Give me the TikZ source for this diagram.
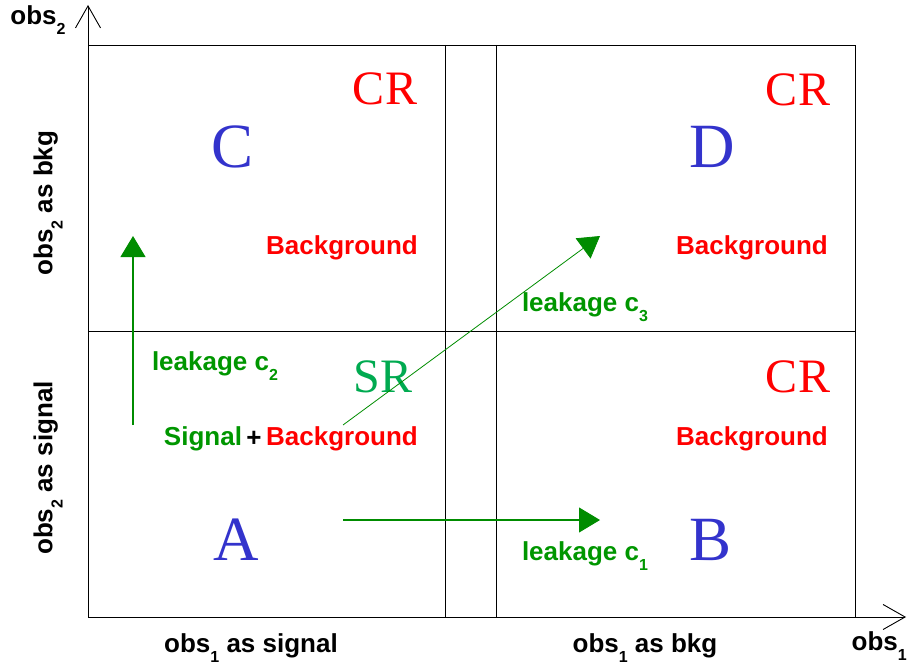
\documentclass[tikz,border=0pt]{standalone}
\usepackage{fontspec}
\setmainfont{Liberation Serif}
\newfontfamily\labelfont{Liberation Sans}
\usetikzlibrary{arrows.meta}
\definecolor{regred}{RGB}{255,0,0}
\definecolor{regblue}{RGB}{51,51,204}
\definecolor{srgreen}{RGB}{0,170,80}
\definecolor{lkgreen}{RGB}{0,150,0}
\definecolor{arrgreen}{RGB}{0,140,0}
\newcommand\lowidx[1]{\raisebox{-0.75ex}{\fontsize{16}{16}\selectfont #1}}
\tikzset{
  grid line/.style={draw=black, line width=0.9pt},
  axis line/.style={draw=black, line width=0.9pt, -{Straight Barb[length=22pt,width=25pt,line width=0.9pt]}},
  axislabel/.style={font=\labelfont\bfseries\fontsize{26}{26}\selectfont, text=black, inner sep=0pt},
  regname/.style={font=\fontsize{48}{48}\selectfont, inner sep=0pt},
  letter/.style={font=\fontsize{63}{63}\selectfont, text=regblue, inner sep=0pt},
  bkgtext/.style={font=\labelfont\bfseries\fontsize{26}{26}\selectfont, text=regred, inner sep=0pt},
  leaktext/.style={font=\labelfont\bfseries\fontsize{26}{26}\selectfont, text=lkgreen, inner sep=0pt},
  leak arrow/.style={draw=arrgreen, line width=1.1pt, -{Triangle[length=21pt,width=25pt]}},
}
\begin{document}
\begin{tikzpicture}[x=1pt,y=-1pt]
\useasboundingbox (0,0) rectangle (907,666);
% frame and axes
\coordinate (origin) at (88,617);
\coordinate (ytip) at (88,5);
\coordinate (xtip) at (906,617);
\draw[axis line] (origin) -- (ytip);
\draw[axis line] (origin) -- (xtip);
\draw[grid line] (88,45) -- (855,45) -- (855,617);
\draw[grid line] (445,45) -- (445,617);
\draw[grid line] (496,45) -- (496,617);
\draw[grid line] (88,331) -- (855,331);
% axis labels
\node[axislabel] (ylab) at (38,20) {obs\lowidx{2}};
\node[axislabel, anchor=east] (xlab) at (907,646) {obs\lowidx{1}};
\node[axislabel] (xsig) at (251,648) {obs\lowidx{1} as signal};
\node[axislabel] (xbkg) at (645,648) {obs\lowidx{1} as bkg};
\node[axislabel, rotate=90] (ybkg) at (48,203) {obs\lowidx{2} as bkg};
\node[axislabel, rotate=90] (ysig) at (48,468) {obs\lowidx{2} as signal};
% region names
\node[regname, text=regred] (crC) at (385,89) {CR};
\node[regname, text=regred] (crD) at (798,90) {CR};
\node[regname, text=regred] (crB) at (798,377) {CR};
\node[regname, text=srgreen] (srA) at (383,377) {SR};
\node[letter] (C) at (233,147) {C};
\node[letter] (D) at (712,147) {D};
\node[letter] (A) at (236,540) {A};
\node[letter] (B) at (710,540) {B};
% contents
\node[bkgtext] (bgC) at (342,248) {Background};
\node[bkgtext] (bgD) at (752,248) {Background};
\node[bkgtext] (bgA) at (342,439) {Background};
\node[bkgtext] (bgB) at (752,439) {Background};
\node[leaktext] (sig) at (203,439) {Signal};
\node[axislabel] (plus) at (254,439) {+};
% leakage labels
\node[leaktext] (c2) at (215,366) {leakage c\lowidx{2}};
\node[leaktext] (c3) at (585,307) {leakage c\lowidx{3}};
\node[leaktext] (c1) at (585,556) {leakage c\lowidx{1}};
% leakage arrows
\coordinate (l2s) at (133,425);
\coordinate (l2e) at (133,236);
\coordinate (l3s) at (343,425);
\coordinate (l3e) at (600,236);
\coordinate (l1s) at (343,520);
\coordinate (l1e) at (600,520);
\draw[leak arrow] (l2s) -- (l2e);
\draw[leak arrow, line width=0.8pt] (l3s) -- (l3e);
\draw[leak arrow] (l1s) -- (l1e);
\end{tikzpicture}
\end{document}
